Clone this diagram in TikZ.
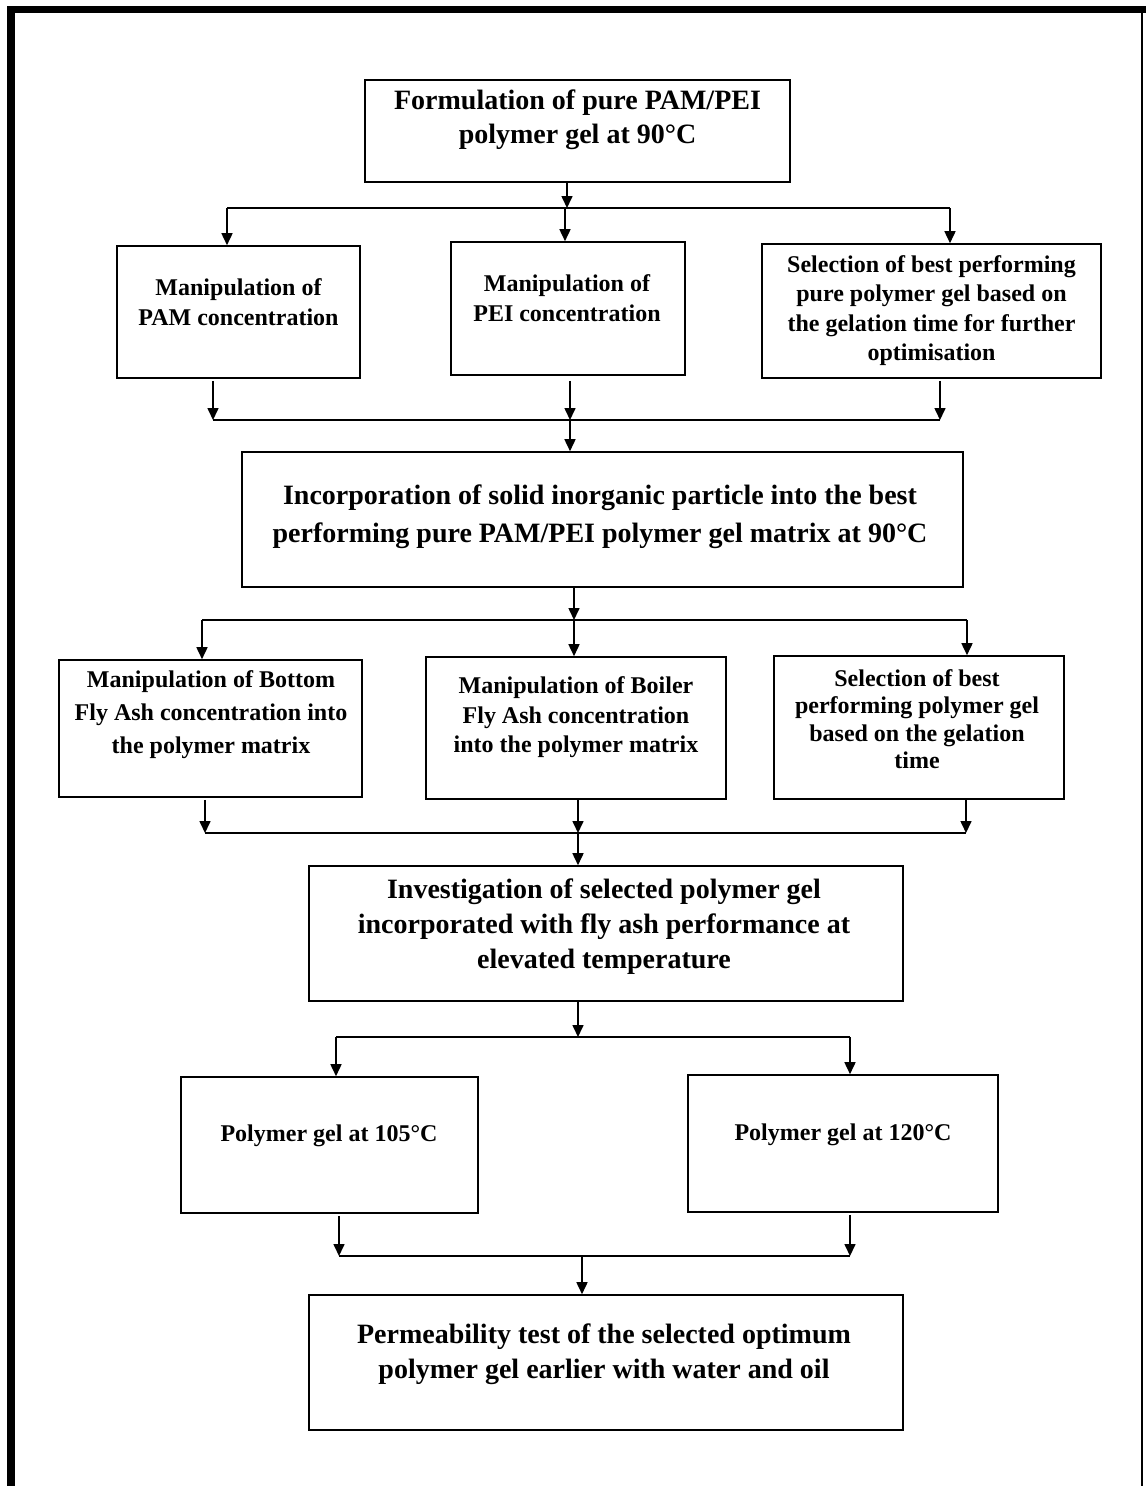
\documentclass[tikz,border=0pt]{standalone}
\usepackage{fontspec}
\setmainfont{Liberation Serif}
\usetikzlibrary{arrows.meta}
\tikzset{
  boxst/.style={draw, line width=1.6pt, inner sep=0pt},
  bigtxt/.style={font=\bfseries\fontsize{28}{#1}\selectfont, align=center, inner sep=0pt},
  smalltxt/.style={font=\bfseries\fontsize{24}{#1}\selectfont, align=center, inner sep=0pt},
  arr/.style={line width=1.6pt, -{Triangle[length=12pt,width=11pt]}},
  junc/.style={line width=1.6pt}
}
\begin{document}
\begin{tikzpicture}[x=1pt,y=-1pt]
\useasboundingbox (0,0) rectangle (1146,1486);
\fill[white] (0,0) rectangle (1146,1486);
% outer frame
\draw[line width=7pt] (7,9.5) -- (1146,9.5);
\draw[line width=8pt] (11,6) -- (11,1486);
\draw[line width=2pt] (1142,13) -- (1142,1486);

% boxes
\node[boxst, minimum width=425pt, minimum height=102pt] (b1) at (577.5,131) {};
\node[boxst, minimum width=243pt, minimum height=132pt] (b2a) at (238.5,312) {};
\node[boxst, minimum width=234pt, minimum height=133pt] (b2b) at (568,308.5) {};
\node[boxst, minimum width=339pt, minimum height=134pt] (b2c) at (931.5,311) {};
\node[boxst, minimum width=721pt, minimum height=135pt] (b3) at (602.5,519.5) {};
\node[boxst, minimum width=303pt, minimum height=137pt] (b4a) at (210.5,728.5) {};
\node[boxst, minimum width=300pt, minimum height=142pt] (b4b) at (576,728) {};
\node[boxst, minimum width=290pt, minimum height=143pt] (b4c) at (919,727.5) {};
\node[boxst, minimum width=594pt, minimum height=135pt] (b5) at (606,933.5) {};
\node[boxst, minimum width=297pt, minimum height=136pt] (b6a) at (329.5,1145) {};
\node[boxst, minimum width=310pt, minimum height=137pt] (b6b) at (843,1143.5) {};
\node[boxst, minimum width=594pt, minimum height=135pt] (b7) at (606,1362.5) {};

% texts
\node[bigtxt=34] (t1) at (577.5,120) {Formulation of pure PAM/PEI\\polymer gel at 90°C};
\node[smalltxt=30] (t2a) at (238.5,302) {Manipulation of\\PAM concentration};
\node[smalltxt=30] (t2b) at (567,298) {Manipulation of\\PEI concentration};
\node[smalltxt=29.5] (t2c) at (931.5,310.5) {Selection of best performing\\pure polymer gel based on\\the gelation time for further\\optimisation};
\node[bigtxt=38] (t3) at (600,517) {Incorporation of solid inorganic particle into the best\\performing pure PAM/PEI polymer gel matrix at 90°C};
\node[smalltxt=33] (t4a) at (211,715) {Manipulation of Bottom\\Fly Ash concentration into\\the polymer matrix};
\node[smalltxt=29.5] (t4b) at (576,717.5) {Manipulation of Boiler\\Fly Ash concentration\\into the polymer matrix};
\node[smalltxt=27.5] (t4c) at (917,719) {Selection of best\\performing polymer gel\\based on the gelation\\time};
\node[bigtxt=35] (t5) at (604,927) {Investigation of selected polymer gel\\incorporated with fly ash performance at\\elevated temperature};
\node[smalltxt=30] (t6a) at (329,1136) {Polymer gel at 105°C};
\node[smalltxt=30] (t6b) at (843,1135) {Polymer gel at 120°C};
\node[bigtxt=35] (t7) at (604,1354.5) {Permeability test of the selected optimum\\polymer gel earlier with water and oil};

% junction coordinates
\coordinate (j1) at (567,208);
\coordinate (j1l) at (227,208);
\coordinate (j1m) at (565,208);
\coordinate (j1r) at (950,208);
\coordinate (j2l) at (213,420);
\coordinate (j2m) at (570,420);
\coordinate (j2r) at (940,420);
\coordinate (j3) at (574,620);
\coordinate (j3l) at (202,620);
\coordinate (j3r) at (967,620);
\coordinate (j4l) at (205,833);
\coordinate (j4m) at (578,833);
\coordinate (j4r) at (966,833);
\coordinate (j5) at (578,1037);
\coordinate (j5l) at (336,1037);
\coordinate (j5r) at (850,1037);
\coordinate (j6l) at (339,1256);
\coordinate (j6m) at (582,1256);
\coordinate (j6r) at (850,1256);

% level 1
\draw[arr] (j1 |- b1.south) -- (j1);
\draw[junc] (j1l) -- (j1r);
\draw[arr] (j1l) -- (j1l |- b2a.north);
\draw[arr] (j1m) -- (j1m |- b2b.north);
\draw[arr] (j1r) -- (j1r |- b2c.north);
% level 2
\draw[arr] ([yshift=-2pt]j2l |- b2a.south) -- (j2l);
\draw[arr] ([yshift=-5pt]j2m |- b2b.south) -- (j2m);
\draw[arr] ([yshift=-2pt]j2r |- b2c.south) -- (j2r);
\draw[junc] (j2l) -- (j2r);
\draw[arr] (j2m) -- (j2m |- b3.north);
% level 3
\draw[arr] (j3 |- b3.south) -- (j3);
\draw[junc] (j3l) -- (j3r);
\draw[arr] (j3l) -- (j3l |- b4a.north);
\draw[arr] (j3) -- (j3 |- b4b.north);
\draw[arr] (j3r) -- (j3r |- b4c.north);
% level 4
\draw[arr] ([yshift=-2pt]j4l |- b4a.south) -- (j4l);
\draw[arr] (j4m |- b4b.south) -- (j4m);
\draw[arr] (j4r |- b4c.south) -- (j4r);
\draw[junc] (j4l) -- (j4r);
\draw[arr] (j4m) -- (j4m |- b5.north);
% level 5
\draw[arr] (j5 |- b5.south) -- (j5);
\draw[junc] (j5l) -- (j5r);
\draw[arr] (j5l) -- (j5l |- b6a.north);
\draw[arr] (j5r) -- (j5r |- b6b.north);
% level 6
\draw[arr] ([yshift=-2pt]j6l |- b6a.south) -- (j6l);
\draw[arr] ([yshift=-2pt]j6r |- b6b.south) -- (j6r);
\draw[junc] (j6l) -- (j6r);
\draw[arr] (j6m) -- (j6m |- b7.north);
\end{tikzpicture}
\end{document}
